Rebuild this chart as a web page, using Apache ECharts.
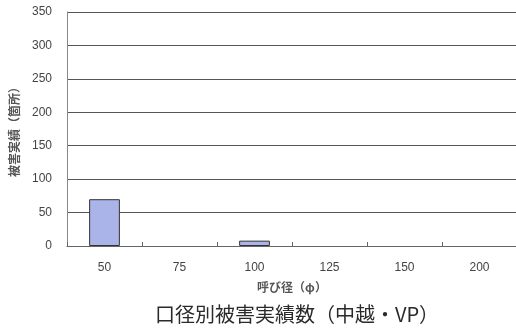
<!DOCTYPE html>
<html>
<head>
<meta charset="utf-8">
<script src="https://cdn.jsdelivr.net/npm/echarts@6/dist/echarts.min.js"></script>
<style>
html,body{margin:0;padding:0;background:#fff;}
#chart{width:516px;height:330px;}
</style>
</head>
<body>
<div id="chart"></div>
<script>
// 口径別の被害実績数
const categories = ['50', '75', '100', '125', '150', '200'];
const damageCounts = [70, 0, 8, 0, 0, 0];
const yTicks = { min: 0, max: 350, interval: 50 };

const chart = echarts.init(document.getElementById('chart'));
const numFont = '"Liberation Sans", sans-serif';
const jpFont = '"Noto Sans CJK JP", sans-serif';

// zero-height bars get no outline
const barData = damageCounts.map(v => v === 0
  ? { value: v, itemStyle: { borderWidth: 0 } }
  : v);

chart.setOption({
  animation: false,
  backgroundColor: '#ffffff',
  title: {
    text: '口径別被害実績数（中越・VP）',
    left: 292,
    textAlign: 'center',
    top: 299,
    textStyle: { fontFamily: jpFont, fontSize: 20, fontWeight: 'normal', color: '#2a2a2a' }
  },
  grid: { left: 67, right: -1, top: 12, bottom: 84, outerBoundsMode: 'none' },
  xAxis: {
    type: 'category',
    data: categories,
    name: '呼び径（φ）',
    nameLocation: 'middle',
    nameGap: 35,
    nameTextStyle: { fontFamily: jpFont, fontSize: 12, fontWeight: 'bold', color: '#555' },
    axisLine: { lineStyle: { color: '#666', width: 1 } },
    axisTick: { show: true, inside: true, length: 4, lineStyle: { color: '#666' } },
    axisLabel: { fontFamily: numFont, fontSize: 12, color: '#444', margin: 16 }
  },
  yAxis: {
    type: 'value',
    min: yTicks.min,
    max: yTicks.max,
    interval: yTicks.interval,
    name: '被害実績（箇所）',
    nameLocation: 'middle',
    nameGap: 47,
    nameRotate: 90,
    nameTextStyle: { fontFamily: jpFont, fontSize: 12, fontWeight: 'bold', color: '#555' },
    axisLine: { show: true, lineStyle: { color: '#888', width: 1 } },
    axisTick: { show: false },
    axisLabel: { fontFamily: numFont, fontSize: 12, color: '#444', margin: 15 },
    splitLine: { lineStyle: { color: '#555', width: 1 } }
  },
  series: [{
    type: 'bar',
    data: barData,
    barWidth: '41%',
    itemStyle: { color: '#aab4e8', borderColor: '#333', borderWidth: 1 }
  }]
});
</script>
</body>
</html>
